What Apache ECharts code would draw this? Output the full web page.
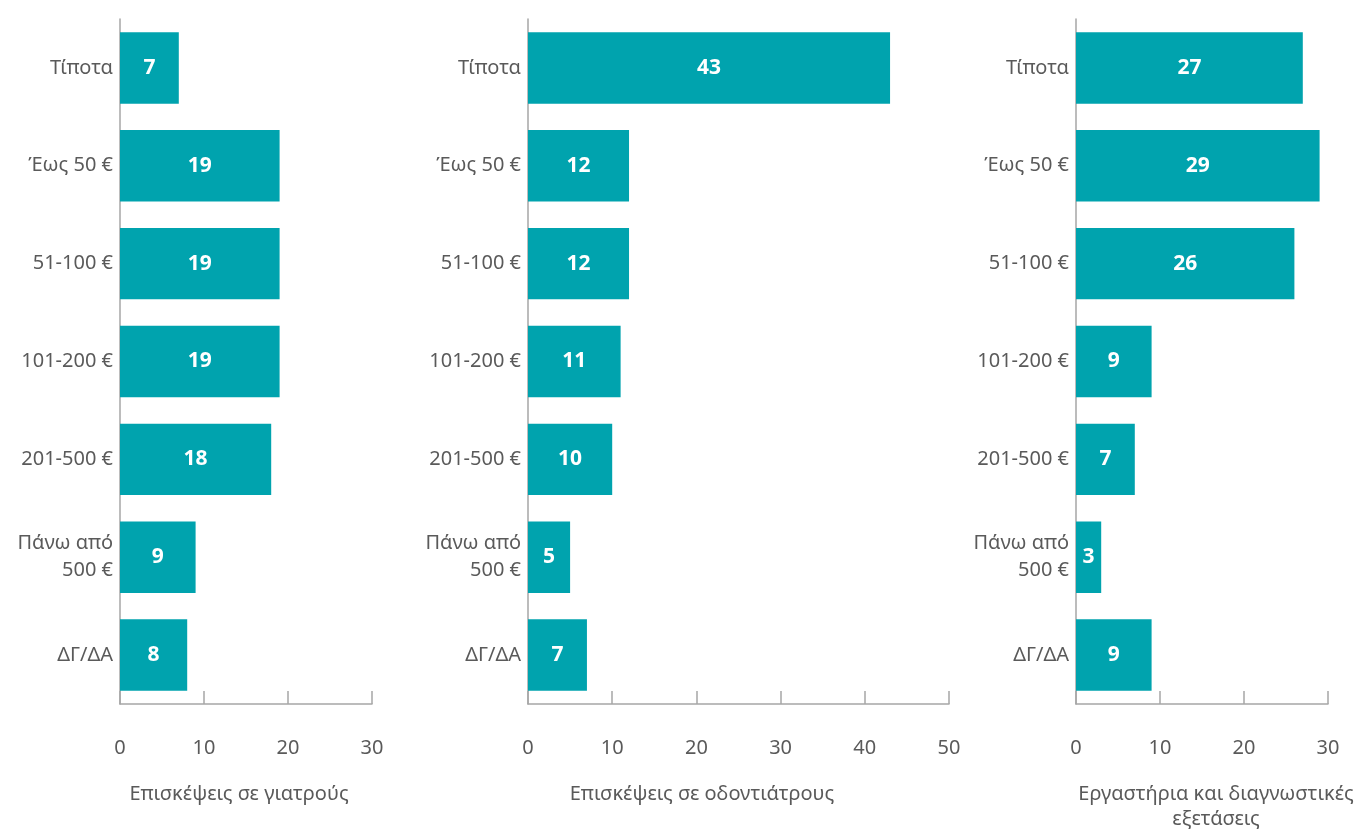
<!DOCTYPE html>
<html>
<head>
<meta charset="utf-8">
<script src="https://cdn.jsdelivr.net/npm/echarts@6/dist/echarts.min.js"></script>
<style>
  html, body { margin: 0; padding: 0; background: #fff; }
  #chart { width: 1360px; height: 829px; }
</style>
</head>
<body>
<div id="chart"></div>
<script>
// Spending categories (top to bottom)
const categories = ['Τίποτα', 'Έως 50 €', '51-100 €', '101-200 €', '201-500 €', 'Πάνω από\n500 €', 'ΔΓ/ΔΑ'];

// Percent of respondents per category, one array per panel
const doctorVisits = [7, 19, 19, 19, 18, 9, 8];
const dentistVisits = [43, 12, 12, 11, 10, 5, 7];
const labTests = [27, 29, 26, 9, 7, 3, 9];

const panelTitles = ['Επισκέψεις σε γιατρούς', 'Επισκέψεις σε οδοντιάτρους', 'Εργαστήρια και διαγνωστικές\nεξετάσεις'];
const axisMax = [30, 50, 30];

const FONT = 'Noto Sans';
const TEXT = '#5a5a5a';
const AXIS = '#a6a6a6';
const BAR = '#00a3ae';

const panels = [
  { data: doctorVisits, left: 120, width: 252, titleX: 239 },
  { data: dentistVisits, left: 528, width: 421, titleX: 702 },
  { data: labTests, left: 1076, width: 252, titleX: 1216 }
];

const grid = [], xAxis = [], yAxis = [], series = [], title = [];
panels.forEach((p, i) => {
  grid.push({ left: p.left, width: p.width, top: 19, height: 685, containLabel: false });
  xAxis.push({
    type: 'value', gridIndex: i, min: 0, max: axisMax[i], interval: 10,
    axisLine: { show: true, lineStyle: { color: AXIS, width: 1.5 } },
    axisTick: { show: true, inside: true, length: 13, lineStyle: { color: AXIS, width: 1.5 } },
    splitLine: { show: false },
    axisLabel: { margin: 34, color: TEXT, fontFamily: FONT, fontSize: 20 }
  });
  yAxis.push({
    type: 'category', gridIndex: i, data: categories, inverse: true,
    axisLine: { show: true, lineStyle: { color: AXIS, width: 1.5 } },
    axisTick: { show: false },
    axisLabel: { margin: 7, color: TEXT, fontFamily: FONT, fontSize: 20, lineHeight: 27, align: 'right' }
  });
  series.push({
    type: 'bar', xAxisIndex: i, yAxisIndex: i, data: p.data,
    barCategoryGap: '27%',
    itemStyle: { color: BAR },
    label: {
      show: true, position: 'inside', color: '#fff',
      fontFamily: FONT, fontWeight: 'bold', fontSize: 21
    }
  });
  title.push({
    text: panelTitles[i], left: p.titleX, top: 782, textAlign: 'center', padding: 0,
    textStyle: { color: TEXT, fontFamily: FONT, fontSize: 20, fontWeight: 'normal', lineHeight: 25 }
  });
});

const chart = echarts.init(document.getElementById('chart'));
chart.setOption({
  animation: false,
  backgroundColor: '#fff',
  title, grid, xAxis, yAxis, series
});
</script>
</body>
</html>
